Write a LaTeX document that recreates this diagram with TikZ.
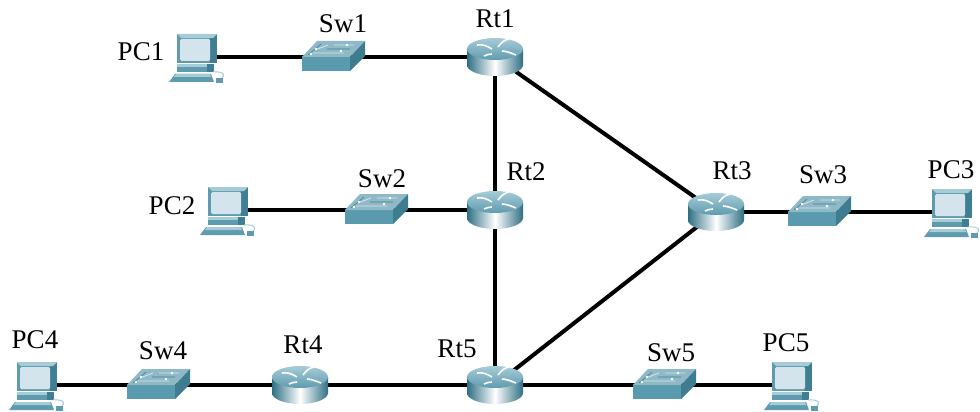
\documentclass[tikz,border=0pt]{standalone}
\usepackage{fontspec}
\setmainfont{Liberation Serif}
\definecolor{tealA}{HTML}{5F9BAE}
\definecolor{tealB}{HTML}{3F7F93}
\definecolor{tealC}{HTML}{A6CCD8}
\definecolor{tealD}{HTML}{2F6F84}
\definecolor{scr}{HTML}{D3E4EC}
\definecolor{swF}{HTML}{5A9AAE}
\definecolor{swS}{HTML}{3E7D90}
\definecolor{swT}{HTML}{8FB9C6}
\tikzset{
  anchorbox/.style={inner sep=0pt,outer sep=0pt,minimum width=#1},
  anchorbox/.default=4pt,
  link/.style={line width=4pt,black},
  lbl/.style={font=\fontsize{27}{29}\selectfont,inner sep=0pt,text=black},
  pc/.pic={
    \fill[tealA] (-20,-23) rectangle (20,6);
    \fill[tealB] (13,-23) -- (20,-23) -- (20,6) -- (13,6) -- cycle;
    \fill[tealC] (-20,-23) -- (20,-23) -- (16,-19) -- (-16,-19) -- cycle;
    \fill[scr,rounded corners=1.5pt] (-17,-18) rectangle (13,4);
    \fill[tealC] (-20,7) rectangle (17,10);
    \fill[tealA] (-20,10) rectangle (17,15);
    \fill[tealB] (10,7) rectangle (17,15);
    \fill[tealA] (-22,17) -- (14,17) -- (17,25) -- (-28,25) -- cycle;
    \fill[tealC] (-21,17) -- (13,17) -- (14,20) -- (-23,20) -- cycle;
    \draw[tealC,line width=1pt] (16,15) .. controls (28,14) and (28,19) .. (25,21);
    \fill[tealA] (19,21) rectangle (26,26);
  },
  sw/.pic={
    \fill[swF] (-30,0) rectangle (18,14);
    \fill[swT] (-30,0) -- (-15,-16) -- (33,-16) -- (18,0) -- cycle;
    \fill[swS] (18,0) -- (33,-16) -- (33,-1) -- (18,14) -- cycle;
    \draw[white!75!tealA,line width=.8pt] (-17,-7) -- (-4,-12) (-19,-4) -- (12,-4) (2,-12) -- (22,-12);
    \draw[tealB,line width=.6pt] (-24,-2) -- (-11,-13) (-5,-8) -- (18,-8);
    \fill[white] (-16,-8) circle[radius=1.3pt] (-21,-3) circle[radius=1.3pt] (15,-12) circle[radius=1.3pt] (9,-6) circle[radius=1.3pt];
  },
  rt/.pic={
    \path[left color=tealD,right color=tealD,middle color=white]
      (-28,-8) -- (-28,8) .. controls (-28,14) and (-15.5,19) .. (0,19)
      .. controls (15.5,19) and (28,14) .. (28,8) -- (28,-8) -- cycle;
    \path[top color=tealC,bottom color=tealA]
      (-28,-8) .. controls (-28,-14) and (-15.5,-19) .. (0,-19)
      .. controls (15.5,-19) and (28,-14) .. (28,-8)
      .. controls (28,-2) and (15.5,3) .. (0,3)
      .. controls (-15.5,3) and (-28,-2) .. (-28,-8) -- cycle;
    \begin{scope}[white,line width=1.6pt]
      \draw (-18,-12) .. controls (-12,-13) and (-8,-11) .. (-3,-8);
      \draw (3,-10) .. controls (6,-14) and (9,-17) .. (14,-18);
      \draw (-3,-3) .. controls (-6,-3) and (-9,-2) .. (-11,-1);
      \draw (7,-6) .. controls (11,-6) and (16,-4) .. (21,-2);
    \end{scope}
  }
}
\begin{document}
\begin{tikzpicture}[x=1pt,y=-1pt]
\useasboundingbox (0,0) rectangle (980,412);
\fill[white] (0,0) rectangle (980,412);
% device anchors
\node[anchorbox] (pc1) at (197,57) {};
\node[anchorbox] (pc2) at (228,210) {};
\node[anchorbox] (pc3) at (952,212) {};
\node[anchorbox] (pc4) at (37,385) {};
\node[anchorbox] (pc5) at (792,385) {};
\node[anchorbox] (sw1) at (332,57) {};
\node[anchorbox] (sw2) at (375,210) {};
\node[anchorbox] (sw3) at (818,212) {};
\node[anchorbox] (sw4) at (157,385) {};
\node[anchorbox] (sw5) at (663,385) {};
\node[anchorbox] (rt1) at (495,57) {};
\node[anchorbox] (rt2) at (495,210) {};
\node[anchorbox] (rt3) at (716,212) {};
\node[anchorbox] (rt4) at (300,385) {};
\node[anchorbox] (rt5) at (495,385) {};
% connectors
\draw[link] (pc1.center) -- (sw1.center);
\draw[link] (sw1.center) -- (rt1.center);
\draw[link] (pc2.center) -- (sw2.center);
\draw[link] (sw2.center) -- (rt2.center);
\draw[link] (rt3.center) -- (sw3.center);
\draw[link] (sw3.center) -- (pc3.center);
\draw[link] (pc4.center) -- (sw4.center);
\draw[link] (sw4.center) -- (rt4.center);
\draw[link] (rt4.center) -- (rt5.center);
\draw[link] (rt5.center) -- (sw5.center);
\draw[link] (sw5.center) -- (pc5.center);
\draw[link] (rt1.center) -- (rt2.center);
\draw[link] (rt2.center) -- (rt5.center);
\draw[link] (rt1.center) -- (rt3.center);
\draw[link] (rt5.center) -- (rt3.center);
% icons
\pic at (pc1) {pc}; \pic at (pc2) {pc}; \pic at (pc3) {pc}; \pic at (pc4) {pc}; \pic at (pc5) {pc};
\pic at (sw1) {sw}; \pic at (sw2) {sw}; \pic at (sw3) {sw}; \pic at (sw4) {sw}; \pic at (sw5) {sw};
\pic at (rt1) {rt}; \pic at (rt2) {rt}; \pic at (rt3) {rt}; \pic at (rt4) {rt}; \pic at (rt5) {rt};
% labels
\node[lbl] (lpc1) at (141,52) {PC1};
\node[lbl] (lsw1) at (343,24) {Sw1};
\node[lbl] (lrt1) at (495,19) {Rt1};
\node[lbl] (lrt2) at (526,172) {Rt2};
\node[lbl] (lsw2) at (382,179) {Sw2};
\node[lbl] (lpc2) at (172,206) {PC2};
\node[lbl] (lrt3) at (732,171) {Rt3};
\node[lbl] (lsw3) at (823,175) {Sw3};
\node[lbl] (lpc3) at (951,170) {PC3};
\node[lbl] (lpc4) at (35,340) {PC4};
\node[lbl] (lsw4) at (163,351) {Sw4};
\node[lbl] (lrt4) at (303,345) {Rt4};
\node[lbl] (lrt5) at (457,349) {Rt5};
\node[lbl] (lsw5) at (671,353) {Sw5};
\node[lbl] (lpc5) at (786,343) {PC5};
\end{tikzpicture}
\end{document}
